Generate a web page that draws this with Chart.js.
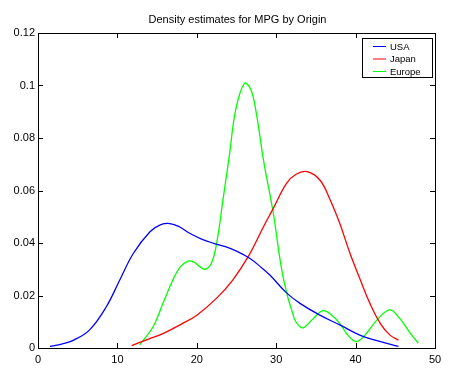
<!DOCTYPE html>
<html><head><meta charset="utf-8">
<script src="https://cdn.jsdelivr.net/npm/chart.js@4/dist/chart.umd.min.js"></script>
<style>html,body{margin:0;padding:0;background:#fff;}#wrap{width:459px;height:381px;}</style>
</head><body><div id="wrap"><canvas id="c" width="459" height="381"></canvas></div>
<script>
const titleText = "Density estimates for MPG by Origin";
const seriesNames = ["USA", "Japan", "Europe"];
const seriesColors = ["#0000ff", "#ff0000", "#00ff00"];
const xTicks = [0, 10, 20, 30, 40, 50];
const yTicks = [0, 0.02, 0.04, 0.06, 0.08, 0.1, 0.12];

const usaX = [1.5, 3, 4.5, 6.5, 8.6, 10.3, 12, 14.1, 15.4, 16.6, 17.8, 19.1, 20.6, 22.1, 23.6, 25.0, 26.7, 28, 29.2, 31.3, 33.0, 35.5, 38, 40.6, 42.7, 45.4];
const usaY = [0.0006, 0.0015, 0.003, 0.0069, 0.0157, 0.0259, 0.036, 0.0443, 0.0469, 0.0474, 0.0462, 0.0437, 0.0415, 0.0399, 0.0386, 0.0369, 0.0341, 0.031, 0.0278, 0.021, 0.017, 0.0125, 0.0088, 0.0048, 0.0028, 0.0006];

const japanX = [11.8, 14, 15.8, 18, 20, 22.5, 24.5, 26.6, 28.4, 29.6, 31.3, 32.5, 33.9, 35.5, 36.8, 38.0, 39.3, 40.6, 41.8, 43.1, 44.3, 45.4];
const japanY = [0.0009, 0.0035, 0.0056, 0.009, 0.0125, 0.019, 0.0258, 0.0355, 0.0462, 0.053, 0.0627, 0.0662, 0.0672, 0.064, 0.0564, 0.0475, 0.036, 0.0259, 0.017, 0.0094, 0.005, 0.003];

const europeX = [12.8, 14.5, 15.8, 17.0, 17.9, 18.9, 19.6, 20.3, 21.0, 21.8, 22.5, 23.3, 24.1, 24.9, 26.0, 26.8, 27.5, 28.4, 29.6, 30.9, 32.3, 33.0, 33.5, 34.6, 35.9, 37, 38, 39, 40.1, 41.2, 42.7, 44.3, 45.5, 46.9, 47.9];
const europeY = [0.0012, 0.0081, 0.0175, 0.026, 0.0308, 0.0331, 0.0328, 0.0312, 0.03, 0.032, 0.0399, 0.0565, 0.0733, 0.0907, 0.1008, 0.0985, 0.0894, 0.0716, 0.052, 0.0265, 0.011, 0.0081, 0.0078, 0.011, 0.0142, 0.0125, 0.0094, 0.005, 0.0024, 0.005, 0.0107, 0.0145, 0.0115, 0.0056, 0.0018];

function pts(xs, ys) { return xs.map((x, i) => ({x: x, y: ys[i]})); }
const allX = [usaX, japanX, europeX];
const allY = [usaY, japanY, europeY];

const FONT = "'Liberation Sans', Arial, Helvetica, sans-serif";

const decor = {
  id: 'decor',
  afterDraw(chart) {
    const ctx = chart.ctx, a = chart.chartArea;
    const xs = chart.scales.x, ys = chart.scales.y;
    ctx.save();
    ctx.strokeStyle = '#000'; ctx.lineWidth = 1;
    ctx.strokeRect(Math.round(a.left) + 0.5, Math.round(a.top) + 0.5, Math.round(a.right - a.left), Math.round(a.bottom - a.top));
    const tl = 5;
    ctx.beginPath();
    xTicks.forEach(v => {
      const px = Math.round(xs.getPixelForValue(v)) + 0.5;
      ctx.moveTo(px, a.bottom); ctx.lineTo(px, a.bottom - tl);
      ctx.moveTo(px, a.top); ctx.lineTo(px, a.top + tl);
    });
    yTicks.forEach(v => {
      const py = Math.round(ys.getPixelForValue(v)) + 0.5;
      ctx.moveTo(a.left, py); ctx.lineTo(a.left + tl, py);
      ctx.moveTo(a.right, py); ctx.lineTo(a.right - tl, py);
    });
    ctx.stroke();
    ctx.fillStyle = '#000';
    ctx.font = '11px ' + FONT;
    ctx.textAlign = 'center'; ctx.textBaseline = 'middle';
    ctx.fillText(titleText, (a.left + a.right) / 2 + 1, 20);
    const bx = 362, by = 38, bw = 70, bh = 39;
    ctx.fillStyle = '#fff';
    ctx.fillRect(bx, by, bw, bh);
    ctx.strokeStyle = '#000';
    ctx.strokeRect(bx + 0.5, by + 0.5, bw, bh);
    ctx.font = '9.5px ' + FONT;
    ctx.textAlign = 'left';
    chart.data.datasets.forEach((ds, i) => {
      const y = by + 8 + i * 12.5;
      ctx.strokeStyle = ds.borderColor; ctx.lineWidth = 1;
      ctx.beginPath(); ctx.moveTo(373, y + 0.5); ctx.lineTo(386, y + 0.5); ctx.stroke();
      ctx.fillStyle = '#000';
      ctx.fillText(ds.label, 390, y + 1);
    });
    ctx.restore();
  }
};

new Chart(document.getElementById('c'), {
  type: 'line',
  data: {
    datasets: seriesNames.map((n, i) => ({
      label: n,
      data: pts(allX[i], allY[i]),
      borderColor: seriesColors[i],
      backgroundColor: seriesColors[i],
      borderWidth: 1.3,
      pointRadius: 0,
      fill: false,
      tension: 0.4
    }))
  },
  options: {
    responsive: false,
    animation: false,
    layout: { padding: { top: 33, right: 24, left: 0, bottom: 0 } },
    plugins: { legend: { display: false }, title: { display: false }, tooltip: { enabled: false } },
    scales: {
      x: {
        type: 'linear', min: 0, max: 50,
        afterBuildTicks: s => { s.ticks = xTicks.map(v => ({value: v})); },
        afterFit: s => { s.height = 33; },
        grid: { display: false, drawTicks: false },
        border: { display: false },
        ticks: { color: '#000', padding: 5, font: { size: 11, family: FONT }, callback: v => String(v), maxRotation: 0, autoSkip: false }
      },
      y: {
        type: 'linear', min: 0, max: 0.12,
        afterBuildTicks: s => { s.ticks = yTicks.map(v => ({value: v})); },
        afterFit: s => { s.width = 38; },
        grid: { display: false, drawTicks: false },
        border: { display: false },
        ticks: { color: '#000', padding: 3, font: { size: 11, family: FONT }, callback: v => String(+Number(v).toFixed(2)), autoSkip: false }
      }
    }
  },
  plugins: [decor]
});
</script></body></html>
